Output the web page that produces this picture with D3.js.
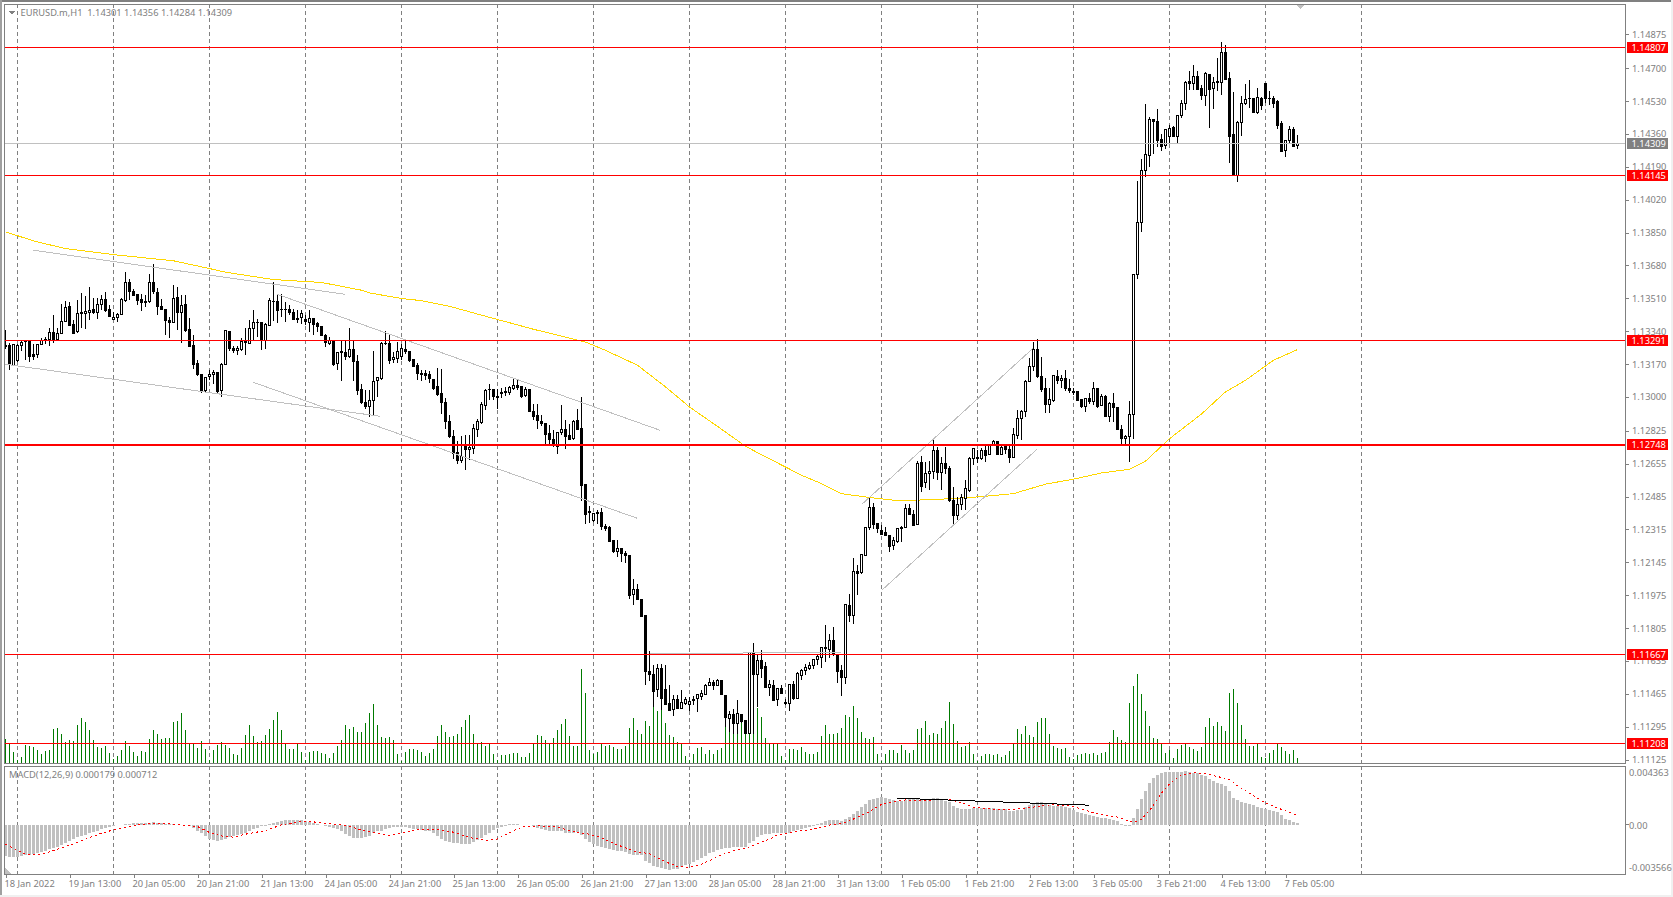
<!DOCTYPE html>
<html>
<head>
<meta charset="utf-8">
<title>EURUSD.m,H1</title>
<script src="https://cdn.jsdelivr.net/npm/d3@7"></script>
<style>
  html, body { margin: 0; padding: 0; background: #fff; }
  svg { display: block; shape-rendering: crispEdges; }
  text { font-family: "Noto Sans", sans-serif; font-size: 9.3px; fill: #808080; }
</style>
</head>
<body>
<svg id="svg"></svg>
<script>
// Prices are in points above 1.00000 (13268 = 1.13268), one entry per H1 bar
const opens = [
  13268,13267,13164,13186,13264,13288,13288,13221,13218,13271,
  13297,13297,13333,13299,13328,13390,13469,13374,13336,13436,
  13430,13435,13452,13435,13476,13504,13452,13400,13411,13424,
  13497,13592,13547,13530,13504,13493,13492,13592,13540,13469,
  13454,13397,13383,13514,13438,13480,13350,13266,13173,13116,
  13031,13104,13116,13126,13035,13168,13340,13250,13240,13247,
  13288,13276,13352,13386,13385,13290,13371,13495,13495,13454,
  13454,13454,13436,13405,13409,13402,13383,13405,13380,13362,
  13319,13276,13293,13171,13235,13230,13207,13245,13185,13038,
  12973,12949,12981,13083,13093,13278,13276,13192,13199,13207,
  13246,13233,13193,13162,13122,13121,13117,13091,13055,13017,
  12972,12874,12797,12712,12669,12743,12728,12733,12833,12867,
  12957,13037,13038,13000,13019,13022,13024,13045,13059,13055,
  13005,13040,12926,12903,12874,12862,12810,12781,12745,12814,
  12831,12800,12783,12879,12836,12546,12407,12362,12403,12403,
  12331,12326,12259,12203,12215,12190,12181,11978,12005,11953,
  11871,11581,11564,11486,11597,11486,11414,11383,11435,11391,
  11417,11410,11435,11440,11453,11460,11510,11522,11510,11534,
  11457,11336,11359,11314,11357,11328,11259,11676,11566,11638,
  11607,11500,11510,11435,11491,11419,11417,11514,11443,11560,
  11586,11598,11609,11641,11655,11705,11696,11741,11669,11586,
  11551,11922,11872,12098,12090,12182,12325,12428,12345,12309,
  12301,12283,12230,12251,12327,12325,12423,12394,12340,12659,
  12559,12604,12613,12725,12607,12656,12630,12466,12385,12444,
  12475,12518,12682,12687,12682,12725,12702,12756,12768,12702,
  12742,12728,12685,12802,12888,12923,13081,13156,13247,13104,
  13044,12961,12983,13107,13083,13095,13045,13026,13028,12987,
  12952,12992,12978,13042,12957,13004,12900,12966,12945,12833,
  12783,12794,12909,13634,13901,14172,14251,14434,14424,14331,
  14298,14345,14393,14345,14453,14517,14631,14619,14658,14595,
  14557,14669,14593,14631,14624,14781,14646,14357,14146,14419,
  14515,14541,14545,14472,14545,14620,14545,14545,14529,14414,
  14272,14324,14383,14301
];
const closes = [
  13259,13168,13273,13266,13283,13285,13211,13211,13271,13293,
  13293,13333,13299,13328,13390,13462,13371,13328,13431,13430,
  13442,13447,13435,13480,13504,13449,13414,13411,13426,13504,
  13592,13543,13526,13497,13486,13486,13592,13543,13469,13450,
  13393,13383,13509,13438,13474,13345,13262,13169,13118,13030,
  13100,13116,13128,13030,13168,13343,13252,13238,13250,13286,
  13280,13354,13385,13383,13293,13374,13500,13492,13449,13450,
  13450,13435,13400,13402,13431,13390,13405,13376,13362,13319,
  13280,13290,13169,13230,13228,13207,13245,13181,13031,12969,
  12949,12981,13080,13099,13276,13274,13190,13205,13235,13248,
  13233,13190,13159,13119,13114,13109,13093,13043,13014,12969,
  12871,12793,12710,12669,12693,12729,12740,12836,12871,12962,
  13034,13041,13000,12997,13024,13027,13048,13057,13048,13003,
  13040,12926,12900,12879,12862,12807,12779,12755,12815,12831,
  12798,12779,12874,12831,12543,12393,12400,12397,12397,12331,
  12322,12253,12202,12215,12193,12181,11974,12003,11953,11867,
  11578,11564,11479,11595,11440,11410,11379,11435,11391,11419,
  11433,11424,11431,11460,11466,11510,11522,11510,11534,11460,
  11340,11359,11314,11362,11324,11259,11676,11566,11638,11598,
  11500,11514,11431,11490,11469,11414,11514,11440,11569,11586,
  11600,11612,11641,11659,11703,11698,11741,11669,11582,11551,
  11927,11872,12096,12088,12187,12325,12428,12342,12321,12290,
  12282,12228,12259,12320,12321,12423,12394,12337,12656,12538,
  12604,12614,12725,12607,12656,12630,12463,12385,12444,12478,
  12526,12682,12733,12682,12725,12699,12756,12768,12702,12738,
  12728,12685,12806,12888,12923,13081,13159,13247,13104,13040,
  12961,12987,13113,13083,13095,13044,13035,13023,12983,12952,
  12992,12978,13044,12952,13004,12900,12966,12945,12832,12783,
  12795,12909,13633,13901,14170,14253,14434,14422,14327,14296,
  14384,14388,14348,14455,14517,14627,14620,14658,14591,14560,
  14672,14591,14627,14624,14781,14643,14348,14146,14419,14517,
  14539,14545,14472,14548,14505,14541,14541,14517,14405,14270,
  14326,14384,14296,14309
];
const highs = [
  13345,13280,13276,13273,13297,13290,13290,13273,13273,13307,
  13311,13359,13423,13359,13480,13495,13492,13397,13500,13535,
  13521,13569,13514,13514,13526,13543,13474,13440,13435,13514,
  13647,13609,13557,13531,13531,13526,13638,13686,13561,13509,
  13457,13411,13578,13569,13526,13526,13409,13319,13190,13121,
  13104,13138,13138,13130,13173,13345,13342,13262,13262,13307,
  13359,13400,13449,13405,13388,13380,13514,13593,13531,13531,
  13492,13474,13457,13452,13449,13423,13449,13405,13388,13366,
  13328,13311,13297,13233,13293,13293,13359,13293,13216,13069,
  13035,13035,13238,13104,13285,13342,13319,13233,13285,13276,
  13293,13238,13198,13176,13138,13138,13134,13095,13152,13146,
  12996,12905,12828,12772,12797,12802,12802,12859,12888,12974,
  13043,13065,13041,13043,13048,13052,13055,13100,13090,13059,
  13052,13043,12965,12965,12905,12865,12853,12828,12819,12957,
  12879,12862,12879,12940,13000,12548,12434,12400,12417,12428,
  12345,12331,12262,12262,12221,12203,12183,12059,12034,11957,
  11871,11686,11612,11617,11617,11612,11509,11457,11460,11486,
  11448,11448,11452,11466,11483,11514,11548,11534,11543,11538,
  11460,11374,11388,11431,11362,11331,11681,11728,11672,11690,
  11629,11538,11534,11490,11509,11440,11517,11531,11578,11595,
  11621,11629,11647,11669,11707,11819,11772,11813,11672,11612,
  11931,11979,12169,12129,12190,12328,12475,12452,12349,12337,
  12325,12285,12276,12323,12332,12445,12445,12418,12669,12694,
  12664,12669,12780,12742,12690,12742,12645,12535,12483,12497,
  12569,12687,12738,12728,12738,12750,12759,12776,12773,12745,
  12750,12745,12837,12935,12935,13087,13199,13285,13299,13204,
  13100,13044,13116,13138,13113,13138,13095,13044,13032,12990,
  12997,13021,13078,13044,13014,13009,12975,13018,12949,12854,
  12802,12978,13638,14115,14233,14514,14448,14439,14491,14362,
  14388,14405,14400,14457,14538,14632,14686,14715,14686,14612,
  14681,14672,14655,14753,14834,14819,14681,14577,14426,14555,
  14620,14638,14548,14598,14551,14624,14581,14558,14534,14426,
  14331,14400,14396,14356
];
const lows = [
  13250,13138,13161,13181,13238,13190,13181,13190,13199,13268,
  13273,13262,13280,13293,13324,13388,13366,13324,13333,13354,
  13349,13397,13431,13405,13449,13440,13411,13397,13388,13423,
  13492,13500,13521,13474,13445,13466,13486,13531,13423,13449,
  13319,13307,13380,13345,13280,13336,13259,13142,13107,13021,
  13028,13090,13069,13018,13000,13164,13238,13228,13216,13238,
  13216,13273,13297,13311,13245,13250,13366,13393,13383,13414,
  13388,13423,13397,13380,13376,13371,13336,13319,13336,13319,
  13259,13268,13162,13138,13083,13190,13199,13083,13009,12962,
  12940,12897,12905,13000,13086,13268,13169,13176,13176,13190,
  13224,13181,13155,13086,13083,13086,13072,13038,13003,12910,
  12836,12790,12681,12655,12659,12621,12676,12703,12793,12862,
  12931,12986,12986,12936,12996,13003,13009,13034,13034,12996,
  13000,12922,12879,12834,12852,12755,12750,12741,12703,12802,
  12733,12776,12776,12828,12462,12341,12348,12353,12345,12314,
  12307,12250,12195,12172,12147,12141,11957,11922,11948,11865,
  11509,11531,11397,11448,11379,11405,11376,11348,11388,11388,
  11405,11374,11405,11371,11431,11457,11509,11486,11509,11457,
  11293,11267,11259,11259,11314,11255,11255,11259,11397,11548,
  11497,11455,11428,11400,11466,11405,11376,11435,11438,11538,
  11560,11586,11595,11612,11596,11629,11648,11658,11520,11453,
  11514,11834,11824,11976,12087,12180,12314,12319,12294,12287,
  12280,12199,12211,12245,12251,12321,12388,12332,12337,12509,
  12530,12518,12578,12570,12521,12604,12457,12337,12363,12414,
  12418,12509,12647,12656,12676,12664,12699,12745,12699,12699,
  12707,12656,12682,12785,12776,12894,13078,13135,13100,13026,
  12918,12918,12975,13069,13044,13032,13018,13009,12980,12945,
  12923,12966,12957,12945,12952,12897,12871,12873,12828,12756,
  12750,12664,12783,13610,13853,14138,14189,14258,14293,14272,
  14284,14314,14345,14314,14445,14483,14586,14586,14586,14534,
  14503,14391,14488,14583,14560,14641,14210,14145,14110,14348,
  14508,14496,14469,14465,14483,14520,14508,14496,14388,14267,
  14241,14310,14293,14284
];
// Tick volume, no scale is shown on the chart so this is relative
const volumes = [
  237,190,110,30,57,180,170,160,130,90,
  120,130,340,350,290,210,230,220,380,450,
  410,330,230,160,150,170,100,40,70,130,
  220,170,110,70,120,110,240,330,290,240,
  250,250,410,420,500,330,200,190,150,220,
  140,30,130,180,210,180,150,90,80,150,
  280,380,270,210,220,280,340,430,510,330,
  190,140,140,190,110,30,110,120,120,100,
  90,50,100,170,230,380,340,360,310,310,
  400,500,590,380,260,250,260,230,90,20,
  110,140,140,130,110,70,100,140,270,380,
  310,260,270,290,360,430,480,290,200,210,
  170,190,90,30,80,80,90,100,100,60,
  60,100,190,280,270,230,200,250,330,393,
  443,273,173,167,940,700,133,93,113,193,
  173,183,160,143,143,173,353,453,333,293,
  423,373,567,517,533,403,283,263,207,200,
  73,33,93,153,163,93,133,93,127,153,
  367,423,317,333,400,333,610,590,550,460,
  250,200,200,193,73,27,143,143,133,160,
  113,93,93,113,267,383,293,287,300,353,
  483,463,573,453,307,250,240,263,93,20,
  93,133,133,103,183,133,103,133,343,353,
  423,283,300,293,353,423,610,393,220,163,
  173,213,93,23,73,93,93,83,93,63,
  83,123,193,343,293,373,283,263,413,453,
  453,293,173,153,143,153,63,43,83,93,
  103,93,103,83,103,113,213,333,263,233,
  213,603,773,893,693,523,373,253,243,193,
  103,133,53,143,183,193,163,143,123,163,
  363,453,373,413,373,323,703,743,603,383,
  243,173,173,193,63,53,103,133,193,163,
  123,93,133,53
];
// MACD values are in units of 0.00001
const macdHist = [
  -230,-235,-235,-235,-230,-225,-220,-215,-210,-200,
  -190,-180,-170,-161,-148,-136,-121,-106,-91,-81,
  -74,-62,-52,-42,-32,-25,-17,-7,-2,2,
  7,10,12,15,15,12,17,20,15,12,
  10,7,5,2,0,-2,-12,-25,-42,-62,
  -86,-101,-111,-116,-111,-101,-91,-86,-77,-67,
  -59,-47,-32,-22,-12,-5,7,17,25,32,
  35,37,37,37,35,27,20,12,5,0,
  -7,-17,-25,-27,-49,-67,-86,-96,-99,-99,
  -91,-81,-62,-49,-42,-32,-25,-17,-15,-17,
  -17,-22,-27,-32,-37,-42,-49,-62,-81,-101,
  -116,-126,-133,-136,-138,-138,-138,-126,-111,-96,
  -77,-57,-37,-25,-17,-5,5,7,5,2,
  0,-2,-12,-25,-32,-37,-42,-44,-49,-47,
  -62,-62,-57,-52,-74,-101,-124,-141,-156,-165,
  -175,-180,-185,-190,-193,-198,-215,-225,-225,-225,
  -264,-284,-304,-311,-316,-324,-331,-326,-324,-314,
  -299,-289,-274,-259,-247,-230,-210,-198,-185,-178,
  -173,-168,-165,-163,-163,-161,-131,-116,-91,-74,
  -69,-67,-62,-62,-57,-57,-57,-49,-37,-27,
  -20,-15,-5,5,17,30,35,37,35,27,
  44,62,82,101,136,156,185,195,200,203,
  200,193,183,178,180,185,190,190,190,190,
  195,190,200,198,190,180,173,141,124,116,
  116,121,126,128,128,126,126,126,119,116,
  114,106,106,109,111,131,151,165,170,170,
  165,151,141,141,138,131,124,109,99,91,
  82,74,67,62,54,49,42,37,27,5,
  -5,-12,52,119,193,254,311,351,371,388,
  393,395,395,395,395,400,393,388,383,368,
  361,338,324,309,304,289,252,200,185,170,
  165,156,146,136,126,119,111,106,96,72,
  47,37,25,17
];
const signalBars = [0,3,5,8,10,13,17,20,24,27,32,37,41,44,48,51,54,57,60,65,69,73,77,82,85,89,93,96,100,103,108,112,116,120,123,126,129,133,138,142,146,149,153,157,161,165,168,171,174,177,179,182,185,188,191,193,196,199,202,206,210,213,216,219,222,225,229,232,236,239,242,247,252,256,261,265,268,272,275,278,282,284,286,289,291,294,297,300,303,306,308,312,315,318,323];
const signalValues = [-143,-190,-215,-225,-210,-180,-141,-106,-62,-37,-5,12,7,-2,-12,-57,-82,-91,-69,-42,0,22,22,7,-2,-37,-64,-77,-57,-35,-35,-54,-94,-114,-104,-57,-17,-7,-17,-49,-69,-96,-148,-193,-215,-274,-309,-314,-291,-252,-222,-193,-173,-141,-106,-74,-57,-44,-30,-2,17,57,99,151,170,185,178,185,188,163,131,116,116,128,148,146,126,91,74,57,17,42,106,235,304,371,388,378,358,338,289,215,161,126,71];
const maBars = [0,7,15,27,42,51,55,67,79,89,91,99,104,111,119,132,145,150,158,165,171,178,185,190,195,199,204,209,216,223,232,243,252,260,267,274,281,285,291,299,305,310,317,323];
const maValues = [13854,13807,13767,13736,13704,13664,13645,13607,13592,13552,13538,13509,13498,13469,13423,13350,13284,13241,13164,13052,12948,12848,12745,12690,12638,12595,12552,12500,12480,12464,12469,12483,12500,12549,12575,12607,12626,12668,12784,12912,13026,13086,13190,13245];

// Hand drawn lines: [bar, points, bar, points]
const trendLines = [
  [6.9,13759,84.9,13531],
  [0,13169,93.6,12900],
  [67.9,13531,163.6,12828],
  [61.9,13076,157.9,12373],
  [214.1,12445,256.9,13252],
  [219.1,12001,257.9,12730],
  [161.1,11673,184.4,11673],
  [184.4,11678,208.9,11678]
];
const macdTrend = [222.9,198,271,146];

const levels = [1.14807, 1.14145, 1.13291, 1.12748, 1.11667, 1.11208];
const thickLevel = 1.12748;
const lastPrice = 1.14309;
const priceTicks = [1.14875,1.147,1.1453,1.1436,1.1419,1.1402,1.1385,1.1368,1.1351,1.1334,1.1317,1.13,1.12825,1.12655,1.12485,1.12315,1.12145,1.11975,1.11805,1.11635,1.11465,1.11295,1.11125];
const timeLabels = ['18 Jan 2022','19 Jan 13:00','20 Jan 05:00','20 Jan 21:00','21 Jan 13:00','24 Jan 05:00','24 Jan 21:00','25 Jan 13:00','26 Jan 05:00','26 Jan 21:00','27 Jan 13:00','28 Jan 05:00','28 Jan 21:00','31 Jan 13:00','1 Feb 05:00','1 Feb 21:00','2 Feb 13:00','3 Feb 05:00','3 Feb 21:00','4 Feb 13:00','7 Feb 05:00'];
const macdLabels = [0.004363, 0, -0.003566];

const width = 1673;
const height = 897;
const chartLeft = 5, chartRight = 1625;
const mainTop = 4, mainBottom = 763;
const macdTop = 766, macdBottom = 874;
const toPrice = v => 1 + v / 1e5;

const svg = d3.select('#svg').attr('width', width).attr('height', height);

// Bars are 4px apart, the future part of the axis stays empty
const x = d3.scaleLinear().domain([0, 400]).range([5.5, 1605.5]);
const y = d3.scaleLinear().domain([1.14807, 1.11208]).range([47.5, 743.5]);
const yVol = d3.scaleLinear().domain([0, 1000]).range([mainBottom, mainBottom - 100]);
const yMacd = d3.scaleLinear().domain([-356.6, 436.3]).range([873, 766]);

// The thick level sits a pixel higher, its 2px stroke would otherwise round down
const levelY = d => y(d) - (d === thickLevel ? 1 : 0);

// Window edges
svg.append('rect').attr('width', width).attr('height', 2).attr('fill', '#808080');
svg.append('rect').attr('width', 2).attr('height', height).attr('fill', '#a0a0a0');
svg.append('rect').attr('y', 895).attr('width', width).attr('height', 2).attr('fill', '#f0f0f0');
svg.append('rect').attr('x', 1671).attr('width', 2).attr('height', height).attr('fill', '#f0f0f0');

// Grid
const gridBars = d3.range(3, 340, 24);
[[mainTop, mainBottom], [macdTop, macdBottom]].forEach(([top, bottom]) => {
  svg.append('g').selectAll('line').data(gridBars).join('line')
    .attr('x1', d => x(d)).attr('x2', d => x(d))
    .attr('y1', top).attr('y2', bottom)
    .attr('stroke', '#808080')
    .attr('stroke-dasharray', '4,3');
});

// Volume
svg.append('g').selectAll('line').data(volumes).join('line')
  .attr('x1', (d, i) => x(i)).attr('x2', (d, i) => x(i))
  .attr('y1', yVol(0)).attr('y2', d => yVol(d))
  .attr('stroke', '#007a00');

// Moving average
const ma = d3.line().x((d, i) => x(maBars[i])).y(d => y(toPrice(d)));
svg.append('path').attr('d', ma(maValues))
  .attr('fill', 'none').attr('stroke', '#ffd700');

// Candles
const candles = svg.append('g').selectAll('g').data(opens).join('g');
candles.append('line')
  .attr('x1', (d, i) => x(i)).attr('x2', (d, i) => x(i))
  .attr('y1', (d, i) => y(toPrice(highs[i])))
  .attr('y2', (d, i) => y(toPrice(lows[i])))
  .attr('stroke', '#000');
candles.append('rect')
  .attr('x', (d, i) => x(i) - 1)
  .attr('width', 2)
  .attr('y', (d, i) => y(toPrice(Math.max(d, closes[i]))))
  .attr('height', (d, i) => Math.abs(y(toPrice(d)) - y(toPrice(closes[i]))))
  .attr('fill', (d, i) => closes[i] >= d ? '#fff' : '#000')
  .attr('stroke', '#000');

// Trend lines
svg.append('g').selectAll('line').data(trendLines).join('line')
  .attr('x1', d => x(d[0])).attr('y1', d => y(toPrice(d[1])))
  .attr('x2', d => x(d[2])).attr('y2', d => y(toPrice(d[3])))
  .attr('stroke', '#c0c0c0');

// Current price and horizontal levels
svg.append('line')
  .attr('x1', chartLeft).attr('x2', chartRight)
  .attr('y1', y(lastPrice)).attr('y2', y(lastPrice))
  .attr('stroke', '#c0c0c0');
svg.append('g').selectAll('line').data(levels).join('line')
  .attr('x1', chartLeft).attr('x2', chartRight)
  .attr('y1', d => levelY(d)).attr('y2', d => levelY(d))
  .attr('stroke', '#f00')
  .attr('stroke-width', d => d === thickLevel ? 2 : 1);

// MACD histogram and signal
svg.append('g').selectAll('rect').data(macdHist).join('rect')
  .attr('x', (d, i) => x(i) - 1.5)
  .attr('width', 3)
  .attr('y', d => Math.min(yMacd(d), yMacd(0)))
  .attr('height', d => Math.abs(yMacd(d) - yMacd(0)))
  .attr('fill', '#c0c0c0');
const signal = d3.line().x((d, i) => x(signalBars[i])).y(d => yMacd(d));
svg.append('path').attr('d', signal(signalValues))
  .attr('fill', 'none').attr('stroke', '#f00')
  .attr('stroke-dasharray', '2,3');
svg.append('line')
  .attr('x1', x(macdTrend[0])).attr('y1', yMacd(macdTrend[1]))
  .attr('x2', x(macdTrend[2])).attr('y2', yMacd(macdTrend[3]))
  .attr('stroke', '#000');

// Panel frames
[[mainTop, mainBottom], [macdTop, macdBottom]].forEach(([top, bottom]) => {
  svg.append('rect')
    .attr('x', chartLeft - 0.5).attr('y', top + 0.5)
    .attr('width', chartRight - chartLeft + 1).attr('height', bottom - top)
    .attr('fill', 'none').attr('stroke', '#808080');
});

// Price axis
const priceAxis = svg.append('g')
  .attr('transform', `translate(${chartRight + 1},0)`)
  .call(d3.axisRight(y).tickValues(priceTicks).tickFormat(d3.format('.5f')).tickSize(3).tickPadding(3));
priceAxis.select('.domain').remove();
priceAxis.selectAll('line').attr('stroke', '#808080');
priceAxis.selectAll('text').attr('font-family', null).attr('fill', null);

// Flags on the price axis
const flagData = levels.map(d => ({ price: d, color: '#f00' }))
  .concat([{ price: lastPrice, color: '#808080' }]);
const flags = svg.append('g').selectAll('g').data(flagData).join('g')
  .attr('transform', d => `translate(1627,${Math.round(levelY(d.price)) - 6})`);
flags.append('rect').attr('width', 41).attr('height', 11).attr('fill', d => d.color);
flags.append('text')
  .attr('x', 4.5).attr('y', 5.5).attr('dy', '0.35em')
  .style('fill', '#fff')
  .text(d => d.price.toFixed(5));

// MACD axis
svg.append('line')
  .attr('x1', chartRight + 1).attr('x2', chartRight + 4)
  .attr('y1', yMacd(0)).attr('y2', yMacd(0))
  .attr('stroke', '#808080');
svg.append('g').selectAll('text').data(macdLabels).join('text')
  .attr('x', 1629)
  .attr('y', (d, i) => [772.7, 825.7, 867.7][i])
  .attr('dy', '0.35em')
  .text(d => d === 0 ? '0.00' : d.toFixed(6));

// Time axis
const timeTicks = d3.range(0, 321, 16);
const timeAxis = svg.append('g')
  .attr('transform', `translate(0,${macdBottom})`)
  .call(d3.axisBottom(x).tickValues(timeTicks).tickFormat(d => timeLabels[d / 16]).tickSize(4).tickPadding(2));
timeAxis.select('.domain').remove();
timeAxis.selectAll('line').attr('stroke', '#808080');
timeAxis.selectAll('text')
  .attr('font-family', null).attr('fill', null)
  .attr('text-anchor', 'start').attr('x', -1.5);

// Header texts and the small markers
svg.append('text').attr('x', 20.5).attr('y', 12.5).attr('dy', '0.35em')
  .attr('xml:space', 'preserve')
  .text('EURUSD.m,H1  1.14301 1.14356 1.14284 1.14309');
svg.append('text').attr('x', 9).attr('y', 774.7).attr('dy', '0.35em')
  .text('MACD(12,26,9) 0.000179 0.000712');
const triangle = d3.line();
svg.append('path').attr('d', triangle([[8.5, 11], [15.5, 11], [12, 15]]) + 'Z').attr('fill', '#808080');
svg.append('path').attr('d', triangle([[5, 868], [5, 874], [11, 874]]) + 'Z').attr('fill', '#c0c0c0');
svg.append('path').attr('d', triangle([[1296, 5], [1304, 5], [1300, 9]]) + 'Z').attr('fill', '#c0c0c0');
</script>
</body>
</html>
